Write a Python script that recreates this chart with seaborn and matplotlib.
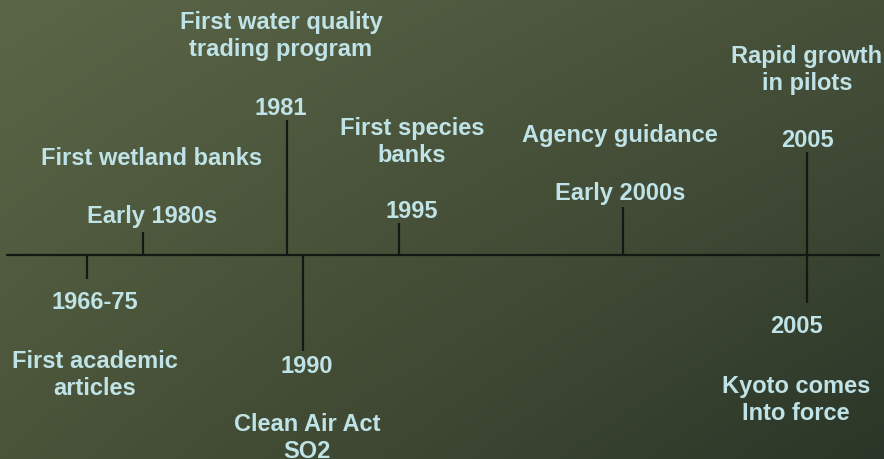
#!/usr/bin/env python
# -*- coding: utf-8 -*-

"""Timeline of trading programs drawn as stems off a horizontal axis."""

import numpy as np
import pandas as pd
import matplotlib.pyplot as plt
import seaborn as sns

# Events along the timeline (position on an 884-unit wide axis)
years = ['1966-75', 'Early 1980s', '1981', '1990', '1995',
         'Early 2000s', '2005', '2005']
descriptions = ['First academic\narticles', 'First wetland banks',
                'First water quality\ntrading program', 'Clean Air Act\nSO2',
                'First species\nbanks', 'Agency guidance',
                'Rapid growth\nin pilots', 'Kyoto comes\nInto force']
positions = [87, 143, 287, 303, 399, 623, 807, 807]
stem_ends = [280, 233, 121, 352, 224, 208, 153, 304]

# label placement (x centre, baseline of year, baseline of last description line)
label_x = [95, 152, 281, 307, 412, 620, 807, 796]
year_base = [309, 223, 115, 373, 218, 200, 147, 333]
desc_base = [395, 165, 56, 458, 162, 142, 90, 420]

AXIS_Y = 256
AXIS_SPAN = (7, 879)

TEXT_COLOR = '#bfe3e7'
LINE_COLOR = '#141812'

df = pd.DataFrame({'year': years, 'desc': descriptions, 'pos': positions,
                   'end': stem_ends, 'lx': label_x, 'yb': year_base,
                   'db': desc_base})

sns.set_theme(style='white')
plt.rcParams['font.family'] = ['Liberation Sans', 'DejaVu Sans']

fig = plt.figure(figsize=(8.84, 4.60), dpi=100)
ax = fig.add_axes([0, 0, 1, 1])

# diagonal olive-to-dark background gradient
tl = np.array([91, 101, 71]) / 255
tr = np.array([70, 80, 57]) / 255
bl = np.array([74, 84, 57]) / 255
br = np.array([44, 54, 40]) / 255
u = np.linspace(0, 1, 200)[None, :, None]
v = np.linspace(0, 1, 120)[:, None, None]
grad = (1 - v) * ((1 - u) * tl + u * tr) + v * ((1 - u) * bl + u * br)
ax.imshow(grad, extent=(0, 884, 460, 0), aspect='auto', zorder=0,
          interpolation='bilinear')

# main horizontal axis
sns.lineplot(x=list(AXIS_SPAN), y=[AXIS_Y, AXIS_Y], ax=ax, color=LINE_COLOR,
             linewidth=1.6, zorder=2)

# stems
ax.vlines(df['pos'], AXIS_Y, df['end'], color=LINE_COLOR, linewidth=1.6,
          zorder=2)

for _, row in df.iterrows():
    ax.text(row['lx'], row['yb'], row['year'], ha='center', va='baseline',
            fontsize=17, fontweight='bold', color=TEXT_COLOR, zorder=3)
    ax.text(row['lx'], row['db'], row['desc'], ha='center', va='baseline',
            fontsize=17, fontweight='bold', color=TEXT_COLOR, zorder=3,
            linespacing=1.22, multialignment='center')

ax.set_xlim(0, 884)
ax.set_ylim(460, 0)
ax.axis('off')

fig.savefig('out.png', dpi=100)
